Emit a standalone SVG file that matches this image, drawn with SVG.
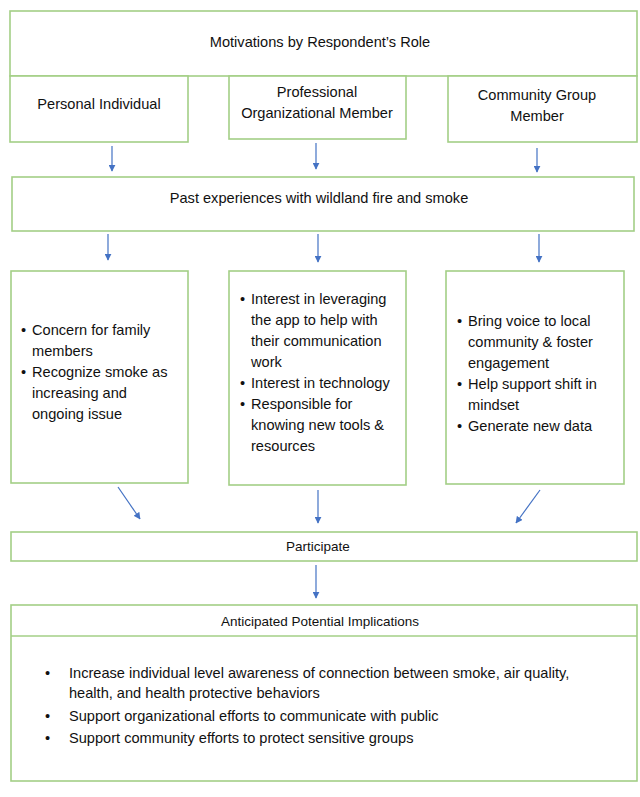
<svg xmlns="http://www.w3.org/2000/svg" width="640" height="797" viewBox="0 0 640 797">
<style>
.box{fill:#fff;stroke:#a3cf86;stroke-width:1.6}
.t{font-family:"Liberation Sans",Arial,sans-serif;font-size:14.6px;fill:#111}
.c{text-anchor:middle}
.s{font-size:13.5px}
.con{stroke:#4472c4;stroke-width:1.2;fill:none;marker-end:url(#ah)}
</style>
<defs>
<marker id="ah" viewBox="0 0 10 10" refX="9" refY="5" markerWidth="7" markerHeight="7" markerUnits="userSpaceOnUse" orient="auto">
<path d="M0,0 L10,5 L0,10 z" fill="#4472c4"/>
</marker>
</defs>
<rect width="640" height="797" fill="#fff"/>
<g id="title"><rect class="box" x="10" y="11" width="627" height="65"/><text class="t c" x="320" y="47">Motivations by Respondent’s Role</text></g>
<g id="personal"><rect class="box" x="10" y="76" width="178" height="66"/><text class="t c" x="99" y="109">Personal Individual</text></g>
<g id="professional"><rect class="box" x="229" y="76" width="177" height="63"/><text class="t c" x="317" y="97">Professional</text><text class="t c" x="317" y="118">Organizational Member</text></g>
<g id="community"><rect class="box" x="448" y="76" width="189" height="66"/><text class="t c" x="537" y="100">Community Group</text><text class="t c" x="537" y="121">Member</text></g>
<g id="past"><rect class="box" x="12" y="177" width="622" height="54"/><text class="t c" x="319" y="203">Past experiences with wildland fire and smoke</text></g>
<g id="m-personal"><rect class="box" x="11" y="271" width="177" height="212"/>
<text class="t" x="21" y="335">•</text><text class="t" x="32" y="335">Concern for family</text>
<text class="t" x="32" y="356">members</text>
<text class="t" x="21" y="377">•</text><text class="t" x="32" y="377">Recognize smoke as</text>
<text class="t" x="32" y="398">increasing and</text>
<text class="t" x="32" y="419">ongoing issue</text></g>
<g id="m-professional"><rect class="box" x="229" y="271" width="177" height="214"/>
<text class="t" x="240" y="304">•</text><text class="t" x="251" y="304">Interest in leveraging</text>
<text class="t" x="251" y="325">the app to help with</text>
<text class="t" x="251" y="346">their communication</text>
<text class="t" x="251" y="367">work</text>
<text class="t" x="240" y="388">•</text><text class="t" x="251" y="388">Interest in technology</text>
<text class="t" x="240" y="409">•</text><text class="t" x="251" y="409">Responsible for</text>
<text class="t" x="251" y="430">knowing new tools &amp;</text>
<text class="t" x="251" y="451">resources</text></g>
<g id="m-community"><rect class="box" x="446" y="271" width="178" height="213"/>
<text class="t" x="457" y="326">•</text><text class="t" x="468" y="326">Bring voice to local</text>
<text class="t" x="468" y="347">community &amp; foster</text>
<text class="t" x="468" y="368">engagement</text>
<text class="t" x="457" y="389">•</text><text class="t" x="468" y="389">Help support shift in</text>
<text class="t" x="468" y="410">mindset</text>
<text class="t" x="457" y="431">•</text><text class="t" x="468" y="431">Generate new data</text></g>
<g id="participate"><rect class="box" x="11" y="532" width="626" height="29"/><text class="t c s" x="318" y="551">Participate</text></g>
<g id="implications"><rect class="box" x="11" y="605" width="626" height="176"/><line x1="11" y1="636" x2="637" y2="636" stroke="#a3cf86" stroke-width="1.6"/>
<text class="t c s" x="320" y="626">Anticipated Potential Implications</text>
<text class="t" x="45" y="678">•</text><text class="t" x="69" y="678">Increase individual level awareness of connection between smoke, air quality,</text>
<text class="t" x="69" y="698">health, and health protective behaviors</text>
<text class="t" x="45" y="721">•</text><text class="t" x="69" y="721">Support organizational efforts to communicate with public</text>
<text class="t" x="45" y="743">•</text><text class="t" x="69" y="743">Support community efforts to protect sensitive groups</text></g>
<g id="connectors">
<line class="con" x1="112" y1="146" x2="112" y2="171"/>
<line class="con" x1="316" y1="143" x2="316" y2="169"/>
<line class="con" x1="537" y1="148" x2="537" y2="172"/>
<line class="con" x1="108" y1="234" x2="108" y2="260"/>
<line class="con" x1="318" y1="234" x2="318" y2="262"/>
<line class="con" x1="539" y1="234" x2="539" y2="262"/>
<line class="con" x1="118" y1="487" x2="140" y2="519"/>
<line class="con" x1="318" y1="490" x2="318" y2="523"/>
<line class="con" x1="540" y1="490" x2="516" y2="523"/>
<line class="con" x1="316" y1="565" x2="316" y2="598"/>
</g>
</svg>
